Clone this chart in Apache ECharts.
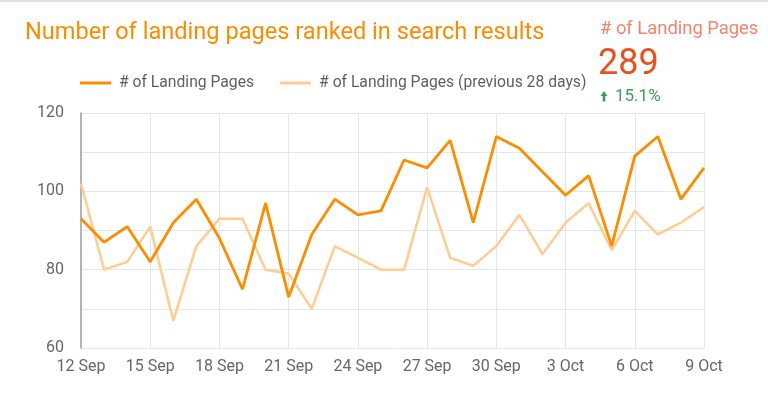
<!DOCTYPE html>
<html><head><meta charset="utf-8">
<script src="https://cdn.jsdelivr.net/npm/echarts@6/dist/echarts.min.js"></script>
<style>html,body{margin:0;padding:0;background:#fff}#c{width:768px;height:397px}</style>
</head><body><div id="c"></div>
<script>
const categories = ['12 Sep','13 Sep','14 Sep','15 Sep','16 Sep','17 Sep','18 Sep','19 Sep','20 Sep','21 Sep','22 Sep','23 Sep','24 Sep','25 Sep','26 Sep','27 Sep','28 Sep','29 Sep','30 Sep','1 Oct','2 Oct','3 Oct','4 Oct','5 Oct','6 Oct','7 Oct','8 Oct','9 Oct'];
const landingPages = [93,87,91,82,92,98,88,75,97,73,89,98,94,95,108,106,113,92,114,111,105,99,104,86,109,114,98,106];
const landingPagesPrev = [102,80,82,91,67,86,93,93,80,79,70,86,83,80,80,101,83,81,86,94,84,92,97,85,95,89,92,96];
const yTicks = [60,80,100,120];
const scoreLabel = '# of Landing Pages';
const scoreValue = '289';
const scoreDelta = '15.1%';

const chart = echarts.init(document.getElementById('c'));
chart.setOption({
  animation: false,
  textStyle: { fontFamily: 'Roboto' },
  title: [
    { text: 'Number of landing pages ranked in search results', left: 20, top: 16,
      textStyle: { color: '#fb8c00', fontSize: 23.6, fontWeight: 'normal', fontFamily: 'Roboto' } },
    { text: scoreLabel, left: 595, top: 15,
      textStyle: { color: '#f4846b', fontSize: 18.4, fontWeight: 'normal', fontFamily: 'Roboto' } },
    { text: scoreValue, left: 593, top: 42,
      textStyle: { color: '#e8501f', fontSize: 36, fontWeight: 'normal', fontFamily: 'Roboto' } },
    { text: scoreDelta, left: 610, top: 83,
      textStyle: { color: '#3a9f55', fontSize: 17, fontWeight: 'normal', fontFamily: 'Roboto' } }
  ],
  legend: {
    left: 75, top: 70, itemWidth: 31, itemHeight: 3, itemGap: 26,
    icon: 'rect',
    textStyle: { color: '#5f5f5f', fontSize: 15.7, padding: [0, 0, 0, 3] },
    data: ['# of Landing Pages', '# of Landing Pages (previous 28 days)']
  },
  grid: { left: 81, right: 64, top: 113, bottom: 49, containLabel: false },
  xAxis: {
    type: 'category', data: categories, boundaryGap: false,
    axisLine: { show: false }, axisTick: { show: false },
    axisLabel: { interval: 2, color: '#666', fontSize: 16, margin: 11 },
    splitLine: { show: true, interval: 2, lineStyle: { color: '#e6e6e6' } }
  },
  yAxis: {
    type: 'value', min: 60, max: 120, interval: 10,
    axisLine: { show: true, lineStyle: { color: '#9e9e9e', width: 1.5 } },
    axisTick: { show: false },
    axisLabel: { color: '#666', fontSize: 16, margin: 17,
      formatter: v => yTicks.includes(v) ? String(v) : '' },
    splitLine: { lineStyle: { color: '#e6e6e6' } }
  },
  series: [
    { name: '# of Landing Pages (previous 28 days)', type: 'line', data: landingPagesPrev,
      symbol: 'none', z: 2, itemStyle: { color: '#ffcc92' }, lineStyle: { color: '#ffcc92', width: 2.5 } },
    { name: '# of Landing Pages', type: 'line', data: landingPages,
      symbol: 'none', z: 3, itemStyle: { color: '#ff8c00' }, lineStyle: { color: '#ff8c00', width: 2.8 } }
  ],
  graphic: [
    { type: 'rect', shape: { x: 0, y: 0, width: 768, height: 2 }, style: { fill: '#e0e0e6' } },
    { type: 'polygon', shape: { points: [[600.5, 96], [604, 91], [607.5, 96]] }, style: { fill: '#3a9f55' } },
    { type: 'rect', shape: { x: 602.7, y: 95.5, width: 2.6, height: 6 }, style: { fill: '#3a9f55' } }
  ]
});
</script></body></html>
